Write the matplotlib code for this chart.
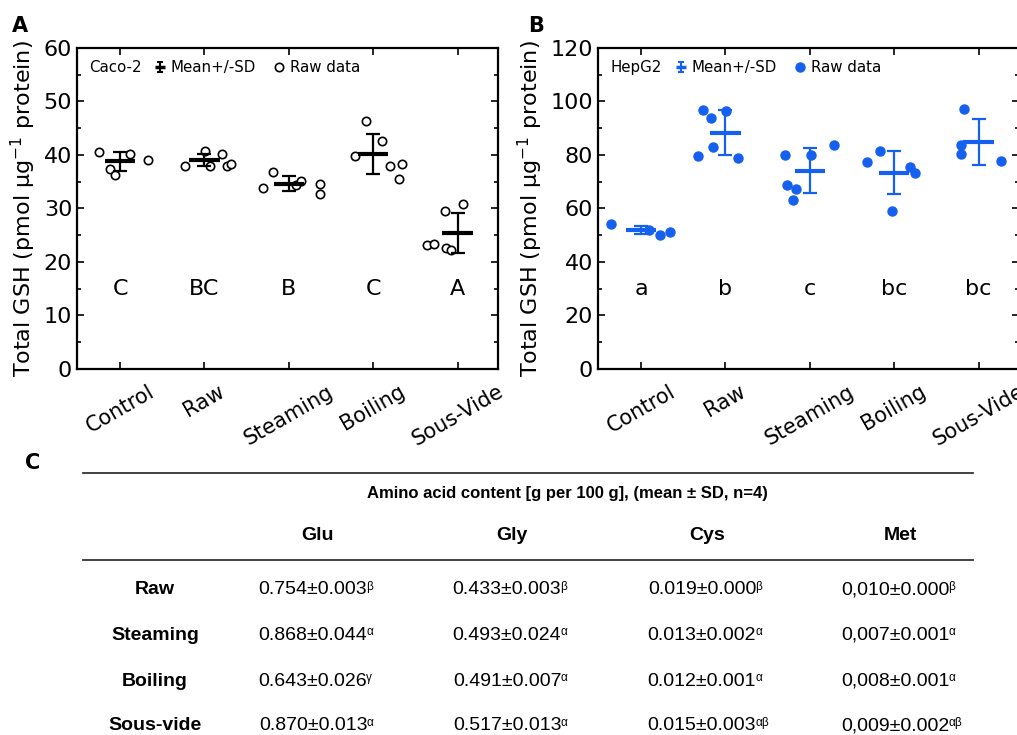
import numpy as np
import matplotlib.pyplot as plt
from matplotlib.lines import Line2D
from matplotlib.path import Path
from matplotlib.legend_handler import HandlerTuple

plt.rcParams.update({"font.family": "DejaVu Sans", "font.size": 16})

groups = ["Control", "Raw", "Steaming", "Boiling", "Sous-Vide"]

# panel A: Caco-2
caco_vals = [
    [40.6, 37.4, 36.3, 40.2, 39.0],
    [38.0, 40.8, 38.0, 40.2, 38.0, 38.4],
    [33.8, 36.8, 34.3, 35.1, 34.6, 32.7],
    [39.9, 46.4, 42.7, 37.9, 38.3, 35.6],
    [23.2, 23.4, 22.6, 22.2, 29.6, 30.8],
]
caco_jit = [
    [-0.245, -0.12, -0.06, 0.12, 0.335],
    [-0.225, 0.01, 0.07, 0.21, 0.27, 0.32],
    [-0.30, -0.19, 0.09, 0.14, 0.37, 0.37],
    [-0.21, -0.09, 0.11, 0.20, 0.34, 0.31],
    [-0.36, -0.28, -0.14, -0.08, -0.15, 0.06],
]
caco_mean = [38.85, 39.05, 34.65, 40.15, 25.4]
caco_sd = [1.75, 1.15, 1.35, 3.75, 3.8]
caco_letters = ["C", "BC", "B", "C", "A"]

# panel B: HepG2
hep_vals = [
    [54.3, 51.9, 50.2, 51.3],
    [79.8, 96.8, 94.0, 83.0, 96.4, 79.0],
    [79.9, 68.9, 67.4, 63.1, 79.9, 83.9],
    [77.3, 81.4, 59.2, 75.5, 73.3],
    [83.9, 80.5, 97.3, 77.9],
]
hep_jit = [
    [-0.35, 0.09, 0.22, 0.34],
    [-0.33, -0.27, -0.17, -0.15, 0.01, 0.15],
    [-0.29, -0.27, -0.16, -0.20, 0.01, 0.29],
    [-0.32, -0.17, -0.03, 0.19, 0.25],
    [-0.21, -0.21, -0.17, 0.27],
]
hep_mean = [51.95, 88.35, 74.15, 73.4, 84.95]
hep_sd = [1.65, 8.45, 8.35, 8.1, 8.55]
hep_letters = ["a", "b", "c", "bc", "bc"]

# panel C: amino acid table
aa_names = ["Glu", "Gly", "Cys", "Met"]
treatments = ["Raw", "Steaming", "Boiling", "Sous-vide"]
aa_values = [
    ["0.754\u00b10.003", "0.433\u00b10.003", "0.019\u00b10.000", "0,010\u00b10.000"],
    ["0.868\u00b10.044", "0.493\u00b10.024", "0.013\u00b10.002", "0,007\u00b10.001"],
    ["0.643\u00b10.026", "0.491\u00b10.007", "0.012\u00b10.001", "0,008\u00b10.001"],
    ["0.870\u00b10.013", "0.517\u00b10.013", "0.015\u00b10.003", "0,009\u00b10.002"],
]
aa_sup = [
    ["\u03b2", "\u03b2", "\u03b2", "\u03b2"],
    ["\u03b1", "\u03b1", "\u03b1", "\u03b1"],
    ["\u03b3", "\u03b1", "\u03b1", "\u03b1"],
    ["\u03b1", "\u03b1", "\u03b1\u03b2", "\u03b1\u03b2"],
]

BLUE = "#1560ee"

# error bar legend symbol: vertical bar with caps
cap_path = Path([(-0.5, -1), (0.5, -1), (0, -1), (0, 1), (-0.5, 1), (0.5, 1)],
                [Path.MOVETO, Path.LINETO, Path.MOVETO, Path.LINETO,
                 Path.MOVETO, Path.LINETO])


def gsh_panel(ax, vals, jit, mean, sd, letters, color, filled, ymax, ystep,
              letter_y, cell):
    x = np.arange(len(groups))
    for i in range(len(groups)):
        xs = x[i] + np.array(jit[i])
        if filled:
            ax.plot(xs, vals[i], "o", ms=6.5, color=color, mec=color, zorder=3)
        else:
            ax.plot(xs, vals[i], "o", ms=6, mfc="white", mec=color, mew=1.2,
                    zorder=3)
    ax.errorbar(x, mean, yerr=sd, fmt="none", ecolor=color, elinewidth=1.6,
                capsize=5, capthick=1.6, zorder=4)
    ax.hlines(mean, x - 0.18, x + 0.18, color=color, lw=3, zorder=4)
    for i, lab in enumerate(letters):
        ax.text(x[i], letter_y, lab, ha="center", va="center", fontsize=16)

    ax.set_xlim(-0.51, 4.48)
    ax.set_ylim(0, ymax)
    ax.set_yticks(np.arange(0, ymax + 1, ystep))
    ax.set_yticks(np.arange(ystep / 2, ymax, ystep), minor=True)
    ax.set_xticks(x)
    ax.set_xticklabels(groups, rotation=30, ha="center", fontsize=15)
    ax.tick_params(direction="in", which="both", top=True, right=True,
                   labelsize=16, width=1.2)
    ax.tick_params(axis="x", labelsize=15, pad=9)
    ax.tick_params(which="major", length=5)
    ax.tick_params(which="minor", length=3)
    for sp in ax.spines.values():
        sp.set_linewidth(1.6)
    ax.set_ylabel("Total GSH (pmol \u00b5g$^{-1}$ protein)", fontsize=16,
                  labelpad=4)

    ax.text(0.03, 0.94, cell, transform=ax.transAxes, va="center",
            ha="left", fontsize=10.8)
    h_err = (Line2D([], [], ls="none", marker=cap_path, ms=7.5, mew=1.5,
                    color=color),
             Line2D([], [], ls="none", marker="_", ms=7, mew=2.5, color=color))
    if filled:
        h_raw = Line2D([], [], ls="none", marker="o", ms=6.5, color=color)
    else:
        h_raw = Line2D([], [], ls="none", marker="o", ms=6, mfc="white",
                       mec=color, mew=1.2)
    ax.legend([h_err, h_raw], ["Mean+/-SD", "Raw data"], ncol=2,
              loc="center left", bbox_to_anchor=(0.183, 0.94),
              frameon=False, fontsize=10.8, handlelength=0.8,
              handletextpad=0.3, columnspacing=1.15, borderpad=0,
              borderaxespad=0, handler_map={tuple: HandlerTuple(ndivide=1)})


fig = plt.figure(figsize=(10.17, 7.35), dpi=100)
axA = fig.add_axes([0.0757, 0.498, 0.414, 0.4367])
axB = fig.add_axes([0.588, 0.498, 0.414, 0.4367])

gsh_panel(axA, caco_vals, caco_jit, caco_mean, caco_sd, caco_letters,
          "black", False, 60, 10, 15, "Caco-2")
gsh_panel(axB, hep_vals, hep_jit, hep_mean, hep_sd, hep_letters,
          BLUE, True, 120, 20, 30, "HepG2")

fig.text(20 / 1017, 1 - 26 / 735, "A", fontsize=15, fontweight="bold",
         ha="center", va="center")
fig.text(536 / 1017, 1 - 26 / 735, "B", fontsize=15, fontweight="bold",
         ha="center", va="center")
fig.text(33 / 1017, 1 - 463 / 735, "C", fontsize=15, fontweight="bold",
         ha="center", va="center")

# table in pixel coordinates
tax = fig.add_axes([0, 0, 1, 1])
tax.set_xlim(0, 1017)
tax.set_ylim(735, 0)
tax.axis("off")
tfont = "Liberation Sans"
col_x = [318, 512, 707, 900]
row_y = [590, 635, 681, 726]
tax.plot([83, 973], [473, 473], color="#333333", lw=1.3)
tax.plot([83, 973], [560, 560], color="#333333", lw=1.3)
tax.text(567, 493, "Amino acid content [g per 100 g], (mean \u00b1 SD, n=4)",
         ha="center", va="center", fontsize=12, fontweight="bold",
         family=tfont)
for cx, name in zip(col_x, aa_names):
    tax.text(cx, 535, name, ha="center", va="center", fontsize=14,
             fontweight="bold", family=tfont)
for r, ry in enumerate(row_y):
    tax.text(155, ry, treatments[r], ha="center", va="center", fontsize=14,
             fontweight="bold", family=tfont)
    for c, cx in enumerate(col_x):
        t = tax.text(cx - 5, ry, aa_values[r][c], ha="center", va="center",
                     fontsize=14, family=tfont)
        tax.annotate(aa_sup[r][c], xy=(1, 1), xycoords=t,
                     xytext=(-0.8, 0.5), textcoords="offset points",
                     ha="left", va="top", fontsize=8.5, family=tfont)

fig.savefig("out.png", dpi=100)
